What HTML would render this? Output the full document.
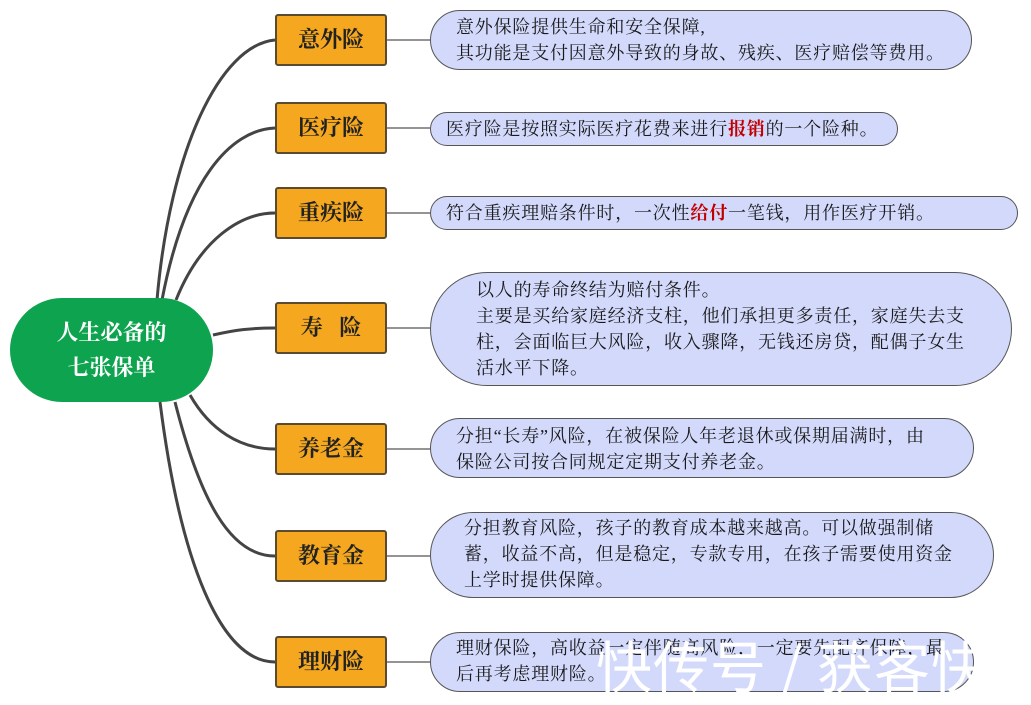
<!DOCTYPE html>
<html><head><meta charset="utf-8"><style>
body{margin:0;width:1031px;height:699px;background:#fff;position:relative;overflow:hidden;font-family:"Liberation Serif","Noto Serif CJK SC",serif;}
.c{position:absolute;left:10px;top:298px;width:203px;height:104px;background:#0ea44f;border-radius:52px;color:#fff;font-weight:bold;font-size:22px;text-align:center;line-height:35px;padding-top:17px;box-sizing:border-box;}
.o{position:absolute;left:275px;width:112px;height:52px;background:#f5a81f;border:2px solid #5a4a30;border-radius:3px;box-sizing:border-box;font-weight:bold;font-size:22px;color:#222;text-align:center;line-height:48px;}
.b{position:absolute;left:430px;background:#d3d9fb;border:1.5px solid #555;box-sizing:border-box;font-size:18px;letter-spacing:0.8px;color:#1a1a1a;line-height:26px;border-radius:40px;white-space:nowrap}
.r{color:#c00000;font-weight:bold}
svg{position:absolute;left:0;top:0}
.wm{position:absolute;left:596px;top:624px;font-family:"Noto Sans CJK SC",sans-serif;font-size:56px;color:#fff;letter-spacing:1px;white-space:nowrap}
</style></head><body>
<svg width="1031" height="699">
<g fill="none" stroke="#444" stroke-width="3">
<path d="M157 300 C170 150 220 45 275 40"/>
<path d="M162 300 C185 180 230 130 275 128"/>
<path d="M176 300 C200 240 240 213 275 213"/>
<path d="M213 335 C235 330 250 328 275 328"/>
<path d="M190 395 C210 430 240 449 275 449"/>
<path d="M175 402 C200 500 230 556 275 556"/>
<path d="M160 402 C180 560 220 662 275 662"/>
</g>
<g stroke="#555" stroke-width="1.2">
<line x1="387" y1="40" x2="430" y2="40"/><line x1="387" y1="128" x2="430" y2="128"/>
<line x1="387" y1="213" x2="430" y2="213"/><line x1="387" y1="328" x2="430" y2="328"/>
<line x1="387" y1="449" x2="430" y2="449"/><line x1="387" y1="556" x2="430" y2="556"/>
<line x1="387" y1="662" x2="430" y2="662"/>
</g></svg>
<div class="c">人生必备的<br>七张保单</div>
<div class="o" style="top:14px">意外险</div>
<div class="o" style="top:102px">医疗险</div>
<div class="o" style="top:187px">重疾险</div>
<div class="o" style="top:302px">寿&nbsp;&nbsp;&nbsp;险</div>
<div class="o" style="top:423px">养老金</div>
<div class="o" style="top:530px">教育金</div>
<div class="o" style="top:636px">理财险</div>
<div class="b" style="top:10px;width:542px;height:60px;padding:3px 0 0 25px">意外保险提供生命和安全保障,<br>其功能是支付因意外导致的身故、残疾、医疗赔偿等费用。</div>
<div class="b" style="top:112px;width:468px;height:34px;padding:3px 0 0 15px">医疗险是按照实际医疗花费来进行<span class="r">报销</span>的一个险种。</div>
<div class="b" style="top:196px;width:588px;height:34px;padding:3px 0 0 15px">符合重疾理赔条件时，一次性<span class="r">给付</span>一笔钱，用作医疗开销。</div>
<div class="b" style="top:272px;width:582px;height:114px;border-radius:57px;padding:4px 0 0 45px">以人的寿命终结为赔付条件。<br>主要是买给家庭经济支柱，他们承担更多责任，家庭失去支<br>柱，会面临巨大风险，收入骤降，无钱还房贷，配偶子女生<br>活水平下降。</div>
<div class="b" style="top:418px;width:544px;height:60px;padding:4px 0 0 25px">分担“长寿”风险，在被保险人年老退休或保期届满时，由<br>保险公司按合同规定定期支付养老金。</div>
<div class="b" style="top:512px;width:564px;height:86px;border-radius:43px;padding:2px 0 0 33px">分担教育风险，孩子的教育成本越来越高。可以做强制储<br>蓄，收益不高，但是稳定，专款专用，在孩子需要使用资金<br>上学时提供保障。</div>
<div class="b" style="top:632px;width:544px;height:60px;padding:2px 0 0 25px">理财保险，高收益一定伴随高风险，一定要先配齐保障，最<br>后再考虑理财险。</div>
<div class="wm">快传号 / 获客快</div>
</body></html>
